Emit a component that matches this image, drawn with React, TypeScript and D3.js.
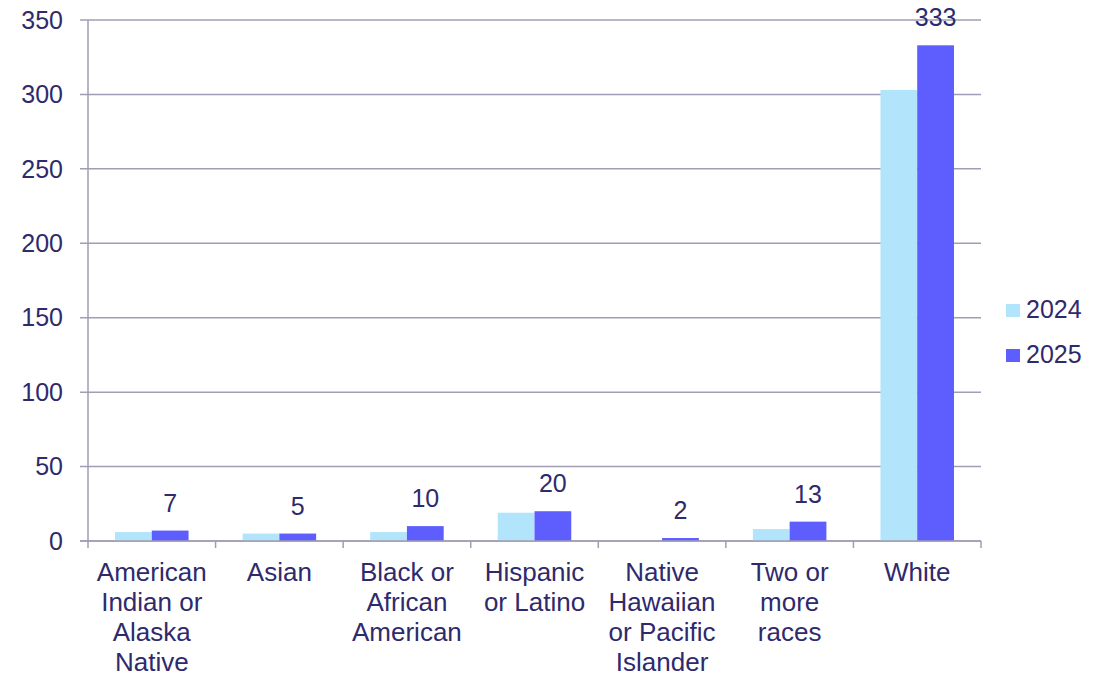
import React from "react";
import * as d3 from "d3";

const categories = [
  ["American", "Indian or", "Alaska", "Native"],
  ["Asian"],
  ["Black or", "African", "American"],
  ["Hispanic", "or Latino"],
  ["Native", "Hawaiian", "or Pacific", "Islander"],
  ["Two or", "more", "races"],
  ["White"],
];
const values2024 = [6, 5, 6, 19, 0, 8, 303];
const values2025 = [7, 5, 10, 20, 2, 13, 333];
const seriesNames = ["2024", "2025"];
const yTicks = [0, 50, 100, 150, 200, 250, 300, 350];

const W = 1115;
const H = 676;
const M = { left: 88, right: 981, top: 20, bottom: 541 };
const TEXT = "#2E2A6C";
const GRID = "#A09DB5";
const COLORS = ["#B2E5FC", "#5E5EFF"];
const FONT = "Arial, 'Liberation Sans', sans-serif";

export default function App() {
  const x = d3
    .scaleBand<number>()
    .domain(d3.range(categories.length))
    .range([M.left, M.right]);
  const y = d3.scaleLinear().domain([0, 350]).range([M.bottom, M.top]);
  const inner = d3
    .scaleBand<number>()
    .domain([0, 1])
    .range([0, x.bandwidth()])
    .paddingOuter(0.735)
    .paddingInner(0);

  const series = [values2024, values2025];
  const boundaries = d3.range(categories.length + 1).map((i) =>
    i === categories.length ? M.right : (x(i) as number)
  );

  return (
    <svg
      width={W}
      height={H}
      style={{ position: "absolute", left: 0, top: 0 }}
      fontFamily={FONT}
    >
      <rect width={W} height={H} fill="#fff" />
      {/* horizontal gridlines and y ticks */}
      {yTicks.map((t) => (
        <g key={t}>
          <line
            x1={80}
            x2={M.right}
            y1={y(t)}
            y2={y(t)}
            stroke={GRID}
            strokeWidth={1.5}
          />
          <text
            x={63}
            y={y(t)}
            dy="0.35em"
            textAnchor="end"
            fontSize={25}
            fill={TEXT}
          >
            {t}
          </text>
        </g>
      ))}
      {/* bars */}
      {series.map((vals, s) =>
        vals.map((v, i) => (
          <rect
            key={`${s}-${i}`}
            x={(x(i) as number) + (inner(s) as number)}
            y={y(v)}
            width={inner.bandwidth()}
            height={y(0) - y(v)}
            fill={COLORS[s]}
          />
        ))
      )}
      {/* y axis */}
      <line
        x1={M.left}
        x2={M.left}
        y1={M.top}
        y2={M.bottom}
        stroke={GRID}
        strokeWidth={1.5}
      />
      {/* x axis with category separators */}
      <line
        x1={80}
        x2={M.right}
        y1={M.bottom}
        y2={M.bottom}
        stroke={GRID}
        strokeWidth={1.5}
      />
      {boundaries.map((bx, i) => (
        <line
          key={i}
          x1={bx}
          x2={bx}
          y1={M.bottom}
          y2={M.bottom + 7}
          stroke={GRID}
          strokeWidth={1.5}
        />
      ))}
      {/* value labels for 2025 */}
      {values2025.map((v, i) => (
        <text
          key={i}
          x={(x(i) as number) + (inner(1) as number) + inner.bandwidth() / 2}
          y={y(v) - 19}
          textAnchor="middle"
          fontSize={25}
          fill={TEXT}
        >
          {v}
        </text>
      ))}
      {/* category labels */}
      {categories.map((lines, i) => (
        <text
          key={i}
          x={(x(i) as number) + x.bandwidth() / 2}
          y={581}
          textAnchor="middle"
          fontSize={26}
          fill={TEXT}
        >
          {lines.map((l, j) => (
            <tspan
              key={j}
              x={(x(i) as number) + x.bandwidth() / 2}
              dy={j === 0 ? 0 : 30}
            >
              {l}
            </tspan>
          ))}
        </text>
      ))}
      {/* legend */}
      {seriesNames.map((name, s) => (
        <g key={name} transform={`translate(1006, ${304 + s * 45})`}>
          <rect width={14} height={13} fill={COLORS[s]} />
          <text x={20} y={14} fontSize={25} fill={TEXT}>
            {name}
          </text>
        </g>
      ))}
    </svg>
  );
}
